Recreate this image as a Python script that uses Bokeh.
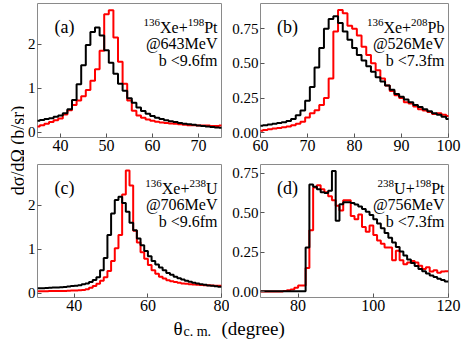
from bokeh.plotting import figure
from bokeh.models import Range1d, FixedTicker, Label, NumeralTickFormatter
from bokeh.layouts import row, column
from bokeh.embed import file_html
from bokeh.resources import INLINE

FONT = "Liberation Serif"

# ---------------- data (bin centres, degrees; cross sections, b/sr) ----------------
theta_a = list(range(35, 76))
black_a = [0.26, 0.28, 0.30, 0.32, 0.35, 0.38, 0.43, 0.52, 0.73, 1.09, 1.52, 1.98, 2.28, 2.38,
           2.20, 1.86, 1.58, 1.33, 1.10, 0.94, 0.77, 0.67, 0.56, 0.48, 0.42, 0.37, 0.33, 0.30,
           0.27, 0.25, 0.23, 0.21, 0.19, 0.18, 0.17, 0.15, 0.14, 0.13, 0.12, 0.11, 0.10]
red_a = [0.13, 0.16, 0.19, 0.23, 0.27, 0.31, 0.40, 0.50, 0.62, 0.72, 0.82, 0.96, 1.17, 1.43,
         1.85, 2.68, 2.77, 2.15, 1.60, 1.10, 0.72, 0.49, 0.38, 0.33, 0.29, 0.26, 0.24, 0.22,
         0.21, 0.20, 0.19, 0.18, 0.17, 0.16, 0.16, 0.15, 0.15, 0.15, 0.14, 0.14, 0.15]

theta_b = list(range(60, 101))
black_b = [0.050, 0.055, 0.060, 0.065, 0.070, 0.075, 0.085, 0.100, 0.127, 0.160, 0.23, 0.33,
           0.47, 0.61, 0.75, 0.82, 0.84, 0.79, 0.73, 0.67, 0.61, 0.56, 0.52, 0.48, 0.44, 0.40,
           0.37, 0.34, 0.31, 0.28, 0.26, 0.24, 0.22, 0.20, 0.185, 0.17, 0.155, 0.14, 0.13,
           0.115, 0.10]
red_b = [0.015, 0.020, 0.025, 0.030, 0.035, 0.040, 0.045, 0.055, 0.065, 0.080, 0.11, 0.14,
         0.163, 0.20, 0.25, 0.39, 0.73, 0.885, 0.86, 0.77, 0.75, 0.70, 0.62, 0.56, 0.50, 0.45,
         0.39, 0.34, 0.30, 0.27, 0.25, 0.22, 0.21, 0.19, 0.17, 0.16, 0.15, 0.135, 0.14, 0.13,
         0.12]

theta_c = [t + 0.5 for t in range(30, 80)]
black_c = [0.11, 0.11, 0.115, 0.12, 0.125, 0.13, 0.135, 0.14, 0.15, 0.16, 0.17, 0.18, 0.20,
           0.22, 0.25, 0.30, 0.36, 0.52, 0.80, 1.32, 1.81, 2.12, 2.19, 2.05, 1.85, 1.60, 1.43,
           1.24, 1.09, 0.96, 0.84, 0.73, 0.65, 0.58, 0.52, 0.46, 0.42, 0.37, 0.34, 0.31, 0.28,
           0.26, 0.235, 0.22, 0.20, 0.19, 0.175, 0.17, 0.155, 0.145]
red_c = [0.04, 0.04, 0.04, 0.045, 0.045, 0.05, 0.05, 0.05, 0.055, 0.06, 0.06, 0.065, 0.07,
         0.085, 0.12, 0.16, 0.21, 0.28, 0.36, 0.50, 0.73, 1.02, 1.32, 2.24, 2.79, 2.45, 1.42,
         1.15, 0.93, 0.78, 0.64, 0.52, 0.44, 0.37, 0.33, 0.29, 0.27, 0.25, 0.235, 0.22, 0.21,
         0.20, 0.195, 0.19, 0.185, 0.18, 0.18, 0.175, 0.17, 0.17]

theta_d = [t + 0.5 for t in range(70, 120)]
black_d = [0.003, 0.003, 0.003, 0.003, 0.003, 0.003, 0.003, 0.003, 0.003, 0.003, 0.003, 0.003,
           0.28, 0.68, 0.665, 0.65, 0.63, 0.625, 0.64, 0.765, 0.45, 0.555, 0.567, 0.567, 0.562,
           0.553, 0.54, 0.525, 0.507, 0.487, 0.46, 0.432, 0.403, 0.373, 0.343, 0.312, 0.283,
           0.256, 0.23, 0.205, 0.183, 0.163, 0.145, 0.13, 0.116, 0.104, 0.093, 0.083, 0.074,
           0.066]
red_d = [0.002, 0.002, 0.002, 0.002, 0.002, 0.002, 0.005, 0.01, 0.015, 0.025, 0.04, 0.04,
         0.15, 0.39, 0.66, 0.675, 0.65, 0.63, 0.605, 0.58, 0.545, 0.515, 0.58, 0.58, 0.48,
         0.46, 0.49, 0.41, 0.38, 0.42, 0.36, 0.325, 0.305, 0.28, 0.28, 0.20, 0.26, 0.20, 0.175,
         0.185, 0.195, 0.185, 0.165, 0.145, 0.155, 0.128, 0.136, 0.12, 0.128, 0.13]

tags = ["(a)", "(b)", "(c)", "(d)"]
systems = [[("136", True), ("Xe+", False), ("198", True), ("Pt", False)],
           [("136", True), ("Xe+", False), ("208", True), ("Pb", False)],
           [("136", True), ("Xe+", False), ("238", True), ("U", False)],
           [("238", True), ("U+", False), ("198", True), ("Pt", False)]]
energies = ["@643MeV", "@526MeV", "@706MeV", "@756MeV"]
impacts = ["b <9.6fm", "b <7.3fm", "b <9.6fm", "b <7.3fm"]

# Times-compatible advance widths (per 1000 em) for estimating composite label widths
ADV = {"0": 500, "1": 500, "2": 500, "3": 500, "4": 500, "5": 500, "6": 500, "7": 500,
       "8": 500, "9": 500, "X": 722, "e": 444, "+": 564, "P": 556, "t": 278, "b": 500,
       "U": 722}


def text_width(s, size):
    return sum(ADV.get(ch, 500) for ch in s) * size / 1000.0


def make_panel(width, height, xr, yr, xticks, yticks, yfmt, borders):
    left, right, top, bottom = borders
    p = figure(width=width, height=height, x_range=Range1d(*xr), y_range=Range1d(*yr),
               output_backend="svg", toolbar_location=None, tools="",
               min_border_left=left, min_border_right=right,
               min_border_top=top, min_border_bottom=bottom)
    p.xgrid.visible = False
    p.ygrid.visible = False
    p.background_fill_color = "white"
    p.border_fill_color = "white"
    p.outline_line_color = "#8a8a8a"
    p.outline_line_width = 1
    p.xaxis.ticker = FixedTicker(ticks=xticks)
    p.yaxis.ticker = FixedTicker(ticks=yticks)
    p.yaxis.formatter = NumeralTickFormatter(format=yfmt)
    for ax, size in ((p.xaxis, "16px"), (p.yaxis, "15px")):
        ax.axis_line_color = None
        ax.major_tick_in = 4
        ax.major_tick_out = 0
        ax.major_tick_line_color = "#555555"
        ax.minor_tick_line_color = None
        ax.major_label_text_font = FONT
        ax.major_label_text_font_size = size
        ax.major_label_text_color = "black"
    p.xaxis.major_label_standoff = 2
    p.yaxis.major_label_standoff = 2
    return p


def draw_hist(p, centers, values, color):
    edges = [c - 0.5 for c in centers] + [centers[-1] + 0.5]
    p.step(edges, list(values) + [values[-1]], mode="after", line_color=color, line_width=2)


def annotate(p, xr, yr, i):
    p.add_layout(Label(x=xr[0], y=yr[1], x_offset=27, y_offset=-23, text=tags[i],
                       text_align="center", text_baseline="alphabetic",
                       text_font=FONT, text_font_size="18px", text_color="black"))
    cum = 4.0
    for txt, sup in reversed(systems[i]):
        size = 11 if sup else 16
        p.add_layout(Label(x=xr[1], y=yr[1], x_offset=-cum,
                           y_offset=-23.5 + (5 if sup else 0), text=txt,
                           text_align="right", text_baseline="alphabetic",
                           text_font=FONT, text_font_size=f"{size}px", text_color="black"))
        cum += text_width(txt, size)
    for txt, dy in ((energies[i], -40), (impacts[i], -56.5)):
        p.add_layout(Label(x=xr[1], y=yr[1], x_offset=-4, y_offset=dy, text=txt,
                           text_align="right", text_baseline="alphabetic",
                           text_font=FONT, text_font_size="16px", text_color="black"))


xr_a, yr_a = (35, 75), (-0.12, 2.925)
xr_b, yr_b = (60, 100), (-0.034, 0.931)
xr_c, yr_c = (30, 80), (-0.10, 2.925)
xr_d, yr_d = (70, 120), (-0.036, 0.806)

YLAB_W = 24
pa = make_panel(205, 164, xr_a, yr_a, [40, 50, 60, 70], [0, 1, 2], "0", (9, 8, 3, 27))
pb = make_panel(234, 164, xr_b, yr_b, [60, 70, 80, 90, 100], [0, 0.25, 0.5, 0.75], "0.00",
                (30, 15, 3, 27))
pc = make_panel(205, 155, xr_c, yr_c, [40, 60, 80], [0, 1, 2], "0", (9, 8, 0, 22))
pd = make_panel(234, 155, xr_d, yr_d, [80, 100, 120], [0, 0.25, 0.5, 0.75], "0.00",
                (30, 15, 0, 22))

for i, (p, th, bl, rd, xr, yr) in enumerate([(pa, theta_a, black_a, red_a, xr_a, yr_a),
                                             (pb, theta_b, black_b, red_b, xr_b, yr_b),
                                             (pc, theta_c, black_c, red_c, xr_c, yr_c),
                                             (pd, theta_d, black_d, red_d, xr_d, yr_d)]):
    draw_hist(p, th, rd, "#ff0000")
    draw_hist(p, th, bl, "black")
    annotate(p, xr, yr, i)

# shared axis titles
ylab = figure(width=YLAB_W, height=345, x_range=Range1d(0, YLAB_W), y_range=Range1d(0, 345),
              x_axis_type=None, y_axis_type=None, output_backend="svg",
              toolbar_location=None, tools="", min_border=0)
ylab.outline_line_color = None
ylab.xgrid.visible = False
ylab.ygrid.visible = False
ylab.add_layout(Label(x=17.5, y=195, angle=90, angle_units="deg", text="dσ/dΩ (b/sr)",
                      text_align="center", text_baseline="alphabetic",
                      text_font=FONT, text_font_size="18px", text_color="black"))

XLAB_W = 463 - YLAB_W
xlab = figure(width=XLAB_W, height=26, x_range=Range1d(0, XLAB_W), y_range=Range1d(0, 26),
              x_axis_type=None, y_axis_type=None, output_backend="svg",
              toolbar_location=None, tools="", min_border=0)
xlab.outline_line_color = None
xlab.xgrid.visible = False
xlab.ygrid.visible = False
xlab.add_layout(Label(x=173 - YLAB_W, y=17, text="θ", text_align="left",
                      text_baseline="alphabetic", text_font=FONT, text_font_size="19px",
                      text_color="black"))
xlab.add_layout(Label(x=183 - YLAB_W, y=14, text="c. m.", text_align="left",
                      text_baseline="alphabetic", text_font=FONT, text_font_size="14px",
                      text_color="black"))
xlab.add_layout(Label(x=221 - YLAB_W, y=17, text="(degree)", text_align="left",
                      text_baseline="alphabetic", text_font=FONT, text_font_size="19px",
                      text_color="black"))

layout = row(ylab, column(row(pa, pb), row(pc, pd), xlab),
             styles={"position": "absolute", "left": "0px", "top": "0px"})

open("out.html", "w").write(file_html(layout, INLINE))
